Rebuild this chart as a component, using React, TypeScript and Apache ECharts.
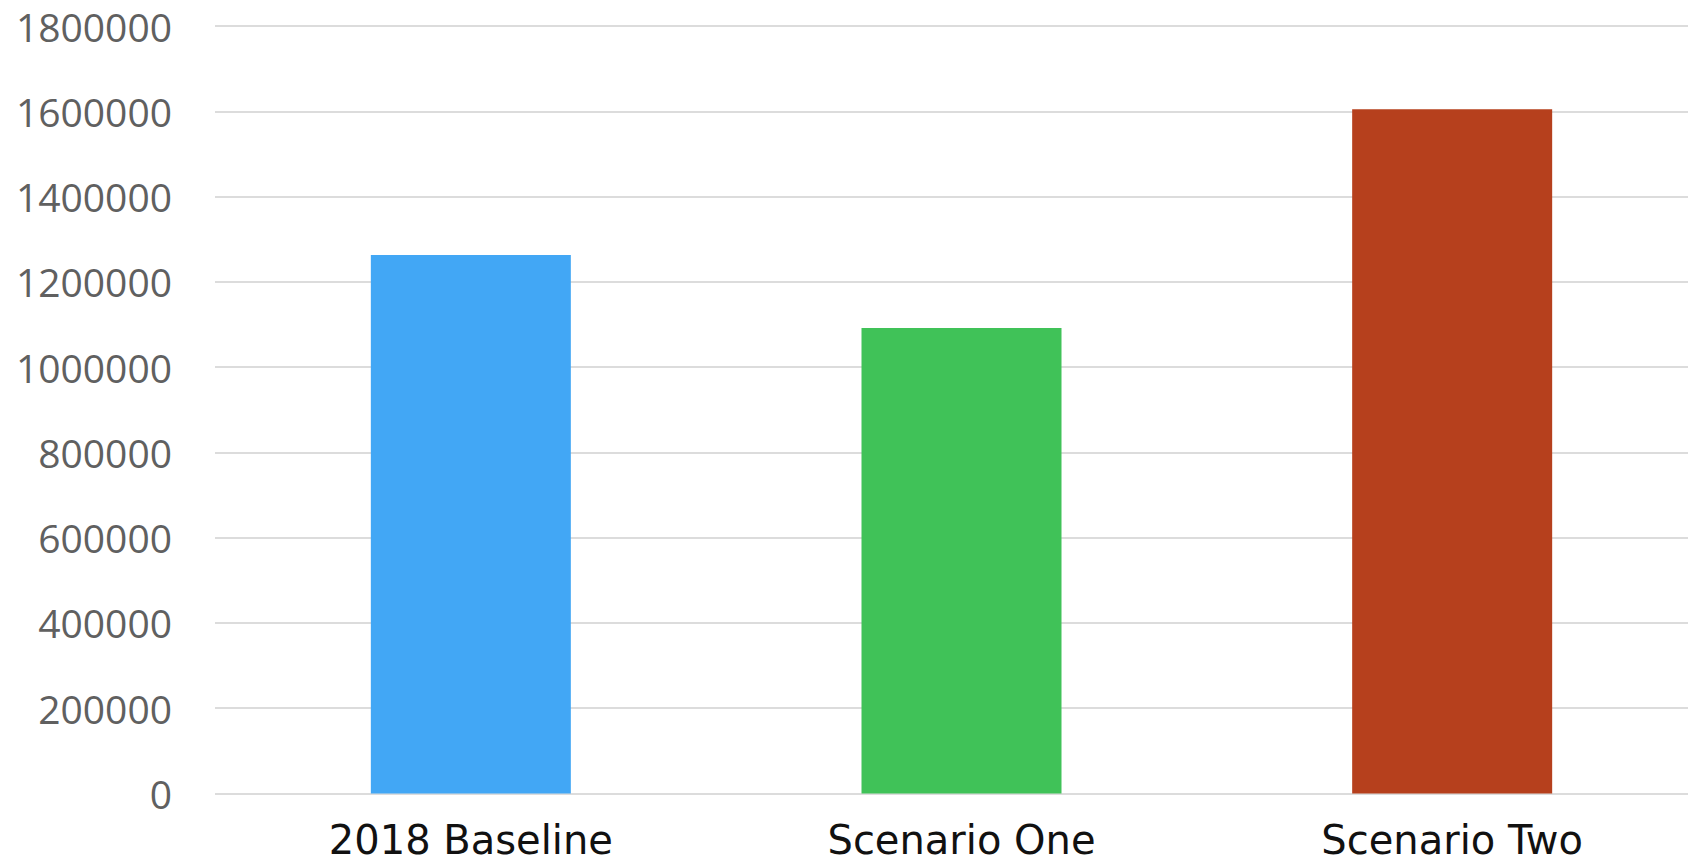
import React, { useEffect, useRef } from "react";
import * as echarts from "echarts";

const categories = ["2018 Baseline", "Scenario One", "Scenario Two"];
const values = [1263000, 1092000, 1605000];
const barColors = ["#42a7f5", "#40c258", "#b6401d"];
const yMin = 0;
const yMax = 1800000;
const yInterval = 200000;

export default function App() {
  const ref = useRef<HTMLDivElement>(null);
  useEffect(() => {
    if (!ref.current) return;
    const chart = echarts.init(ref.current, null, { renderer: "svg" });
    const gridBase = { top: 26, bottom: 69.5, outerBoundsMode: "none", containLabel: false };
    chart.setOption({
      animation: false,
      backgroundColor: "#ffffff",
      grid: [
        { ...gridBase, left: 215, width: 1482 },
        { ...gridBase, left: 225.5, width: 1472 },
      ],
      xAxis: [
        {
          type: "category",
          gridIndex: 0,
          data: categories,
          show: false,
        },
        {
          type: "category",
          gridIndex: 1,
          data: categories,
          axisLine: { show: false },
          axisTick: { show: false },
          axisLabel: {
            margin: 26,
            fontSize: 40,
            color: "#111111",
            fontFamily: "DejaVu Sans",
          },
        },
      ],
      yAxis: [
        {
          type: "value",
          gridIndex: 0,
          min: yMin,
          max: yMax,
          interval: yInterval,
          axisLine: { show: false },
          axisTick: { show: false },
          axisLabel: {
            margin: 43,
            fontSize: 39,
            color: "#606060",
            fontFamily: "Open Sans",
            formatter: (v: number) => String(v),
          },
          splitLine: { lineStyle: { color: "#dcdcdc", width: 2 } },
        },
        {
          type: "value",
          gridIndex: 1,
          min: yMin,
          max: yMax,
          interval: yInterval,
          show: false,
          splitLine: { show: false },
        },
      ],
      series: [
        {
          type: "bar",
          xAxisIndex: 1,
          yAxisIndex: 1,
          barWidth: 200,
          data: values.map((v, i) => ({ value: v, itemStyle: { color: barColors[i] } })),
        },
      ],
    });
    return () => chart.dispose();
  }, []);
  return (
    <div
      ref={ref}
      style={{ position: "fixed", left: 0, top: 0, width: 1688, height: 863 }}
    />
  );
}
